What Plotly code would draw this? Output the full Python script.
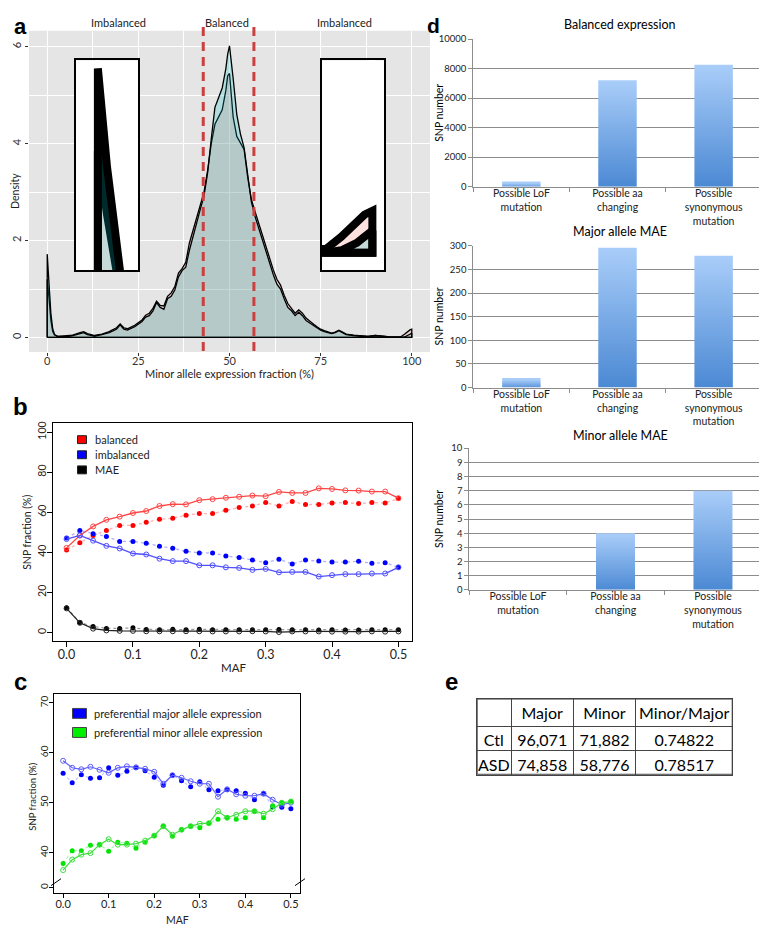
import plotly.graph_objects as go

# The page body adds an 8px offset; the figure is sized to fit the window exactly.
OFF = 8
W, H = 767 - OFF, 945 - OFF
def X(p): return (p - OFF) / W
def Y(p): return 1 - (p - OFF) / H

FONT = "Lato, 'Open Sans', sans-serif"
BOLD = "'Liberation Sans', Arial, sans-serif"

# ---------------- data: panel a (density of minor allele expression fraction) ----------------
dens_x = [0, 0.5, 1, 1.5, 2, 3, 5, 7, 9, 10,
          11, 13, 15, 17, 19, 20, 21, 22, 24, 25,
          26, 27, 28, 29, 30, 31, 32, 33, 34, 35,
          36, 37, 38, 39, 40, 41, 42, 43, 44, 45,
          46, 47, 48, 49, 49.5, 50, 50.5, 51, 52, 53,
          54, 55, 56, 57, 58, 59, 60, 61, 62, 63,
          64, 65, 66, 67, 68, 69, 70, 71, 72, 73,
          74, 75, 76, 77, 78, 79, 80, 81, 82, 84,
          86, 88, 90, 91, 92, 94, 96, 97, 98, 99,
          99.5, 100]
dens_teal = [1.72, 1.10, 0.50, 0.18, 0.06, 0.02, 0.02, 0.04, 0.09, 0.10,
             0.06, 0.03, 0.06, 0.10, 0.17, 0.26, 0.17, 0.15, 0.22, 0.28,
             0.33, 0.42, 0.45, 0.55, 0.72, 0.62, 0.58, 0.80, 0.85, 0.98,
             1.25, 1.38, 1.45, 1.80, 2.10, 2.35, 2.65, 2.92, 3.40, 4.10,
             4.75, 4.95, 5.15, 5.55, 5.85, 6.02, 5.60, 5.35, 4.60, 4.20,
             3.92, 3.30, 2.80, 2.50, 2.25, 2.05, 1.80, 1.55, 1.30, 1.10,
             1.00, 0.80, 0.62, 0.55, 0.45, 0.52, 0.45, 0.35, 0.30, 0.25,
             0.20, 0.15, 0.12, 0.10, 0.08, 0.10, 0.14, 0.10, 0.06, 0.04,
             0.03, 0.02, 0.04, 0.03, 0.02, 0.01, 0.01, 0.00, 0.01, 0.04,
             0.065, 0.09]
dens_pink = [1.20, 0.80, 0.35, 0.12, 0.05, 0.02, 0.03, 0.05, 0.10, 0.12,
             0.08, 0.04, 0.07, 0.12, 0.20, 0.28, 0.20, 0.18, 0.25, 0.31,
             0.36, 0.46, 0.50, 0.60, 0.75, 0.66, 0.65, 0.85, 0.92, 1.05,
             1.33, 1.42, 1.55, 1.95, 2.20, 2.45, 2.70, 3.00, 3.45, 4.00,
             4.40, 4.55, 4.70, 5.10, 5.40, 5.45, 5.00, 4.55, 4.15, 4.00,
             3.88, 3.30, 2.85, 2.60, 2.35, 2.15, 1.90, 1.65, 1.40, 1.20,
             1.08, 0.87, 0.70, 0.60, 0.50, 0.57, 0.50, 0.40, 0.33, 0.28,
             0.22, 0.17, 0.14, 0.11, 0.09, 0.11, 0.15, 0.11, 0.07, 0.05,
             0.03, 0.02, 0.04, 0.03, 0.02, 0.01, 0.01, 0.015, 0.065, 0.13,
             0.155, 0.17]
balanced_bounds = [42.8, 56.7]
region_labels = ["Imbalanced", "Balanced", "Imbalanced"]

# ---------------- data: panel b ----------------
maf = [0.00, 0.02, 0.04, 0.06, 0.08, 0.10, 0.12, 0.14, 0.16, 0.18, 0.20, 0.22, 0.24,
       0.26, 0.28, 0.30, 0.32, 0.34, 0.36, 0.38, 0.40, 0.42, 0.44, 0.46, 0.48, 0.50]
b_balanced_solid = [42.2, 48.4, 52.9, 56.2, 57.8, 59.6, 60.6, 63.1, 64.0, 63.9, 66.0, 66.5, 67.2,
                    67.7, 68.3, 68.0, 70.1, 69.6, 69.6, 71.9, 71.6, 70.9, 70.8, 70.3, 70.3, 67.0]
b_balanced_dot = [41.2, 44.8, 48.4, 50.9, 53.4, 53.4, 55.0, 56.5, 57.0, 58.5, 59.3, 59.3, 61.0,
                  62.3, 63.1, 64.8, 63.1, 65.4, 63.8, 63.9, 64.6, 64.8, 64.3, 64.8, 64.6, 66.8]
b_imbalanced_solid = [46.6, 48.4, 45.8, 43.2, 41.9, 39.4, 38.9, 36.8, 35.6, 35.6, 33.5, 33.5, 32.5,
                      32.2, 31.2, 31.7, 30.0, 30.2, 30.2, 27.9, 28.6, 29.1, 29.1, 29.4, 29.4, 32.5]
b_imbalanced_dot = [47.1, 50.9, 49.3, 47.9, 45.4, 45.4, 44.5, 43.0, 42.0, 40.5, 39.7, 39.7, 38.1,
                    37.4, 36.1, 34.8, 36.5, 34.2, 36.1, 35.6, 35.1, 35.1, 35.5, 34.5, 34.8, 32.5]
b_mae_solid = [12.0, 4.8, 1.9, 1.0, 0.8, 0.8, 0.6, 0.6, 0.6, 0.6, 0.6, 0.5, 0.5,
               0.5, 0.6, 0.5, 0.2, 0.5, 0.5, 0.5, 0.4, 0.4, 0.4, 0.5, 0.4, 0.5]
b_mae_dot = [12.3, 5.0, 3.0, 2.0, 2.0, 2.3, 1.5, 1.4, 1.6, 1.4, 1.6, 1.4, 1.4,
             1.4, 1.4, 1.3, 1.5, 1.4, 1.3, 1.2, 1.3, 1.2, 1.2, 1.3, 1.3, 1.4]
b_legend = ["balanced", "imbalanced", "MAE"]

# ---------------- data: panel c ----------------
c_major_solid = [58.4, 57.0, 56.7, 57.2, 56.6, 56.0, 57.0, 57.3, 57.1, 56.8, 56.2, 53.8, 55.5,
                 55.0, 54.3, 53.8, 53.8, 51.2, 52.7, 51.7, 51.4, 51.4, 51.8, 50.6, 49.6, 50.0]
c_major_dot = [55.9, 54.0, 55.6, 54.9, 55.0, 57.0, 55.5, 56.3, 57.0, 56.4, 55.1, 53.5, 55.5,
               54.4, 53.2, 54.2, 52.6, 52.4, 52.6, 52.4, 51.9, 50.6, 51.9, 49.2, 49.1, 48.8]
c_minor_solid = [36.5, 38.6, 39.6, 39.9, 41.6, 42.7, 41.6, 41.6, 41.8, 42.4, 43.4, 45.3, 43.6,
                 44.6, 45.3, 45.8, 45.9, 48.3, 47.0, 47.6, 48.3, 48.3, 47.8, 48.7, 50.0, 50.2]
c_minor_dot = [37.8, 40.4, 40.4, 41.5, 41.6, 40.3, 42.1, 41.9, 40.9, 42.1, 43.4, 45.3, 43.3,
               44.6, 45.3, 45.0, 45.9, 46.7, 47.0, 46.7, 47.0, 48.3, 47.0, 49.4, 50.0, 50.3]
c_legend = ["preferential major allele expression", "preferential minor allele expression"]

# ---------------- data: panel d ----------------
d_categories = ["Possible LoF<br>mutation", "Possible aa<br>changing", "Possible<br>synonymous<br>mutation"]
d_balanced = [350, 7200, 8250]
d_major_mae = [20, 296, 279]
d_minor_mae = [0, 4, 7]
d_titles = ["Balanced expression", "Major allele MAE", "Minor allele MAE"]

# ---------------- data: panel e ----------------
e_header = ["", "Major", "Minor", "Minor/Major"]
e_rows = ["Ctl", "ASD"]
e_major = ["96,071", "74,858"]
e_minor = ["71,882", "58,776"]
e_ratio = ["0.74822", "0.78517"]

fig = go.Figure()

# ---------- panel a traces ----------
PINK = "rgba(248,118,109,0.22)"
TEAL = "rgba(0,191,196,0.22)"
def closed(xs, ys):
    return [xs[0]] + list(xs) + [xs[-1], xs[0]], [0] + list(ys) + [0, 0]

for ax, lw in (("", 1.3), ("2", 8), ("3", 8)):
    for ys, fc in ((dens_pink, PINK), (dens_teal, TEAL)):
        xx, yy = closed(dens_x, ys)
        fig.add_trace(go.Scatter(x=xx, y=yy, mode="lines", fill="toself", fillcolor=fc,
                                 line=dict(color="black", width=lw),
                                 xaxis="x" + ax, yaxis="y" + ax, showlegend=False, hoverinfo="skip"))

# ---------- panel b traces ----------
b_series = [
    (b_balanced_solid, b_balanced_dot, "#FF4545", "rgba(255,80,80,0.45)", "#FF0000"),
    (b_imbalanced_solid, b_imbalanced_dot, "#4F4FFF", "rgba(80,80,255,0.45)", "#0000FF"),
    (b_mae_solid, b_mae_dot, "#222222", "rgba(60,60,60,0.5)", "#000000"),
]
for solid, dot, cl, cdl, cd in b_series:
    fig.add_trace(go.Scatter(x=maf, y=dot, mode="lines+markers", xaxis="x4", yaxis="y4",
                             line=dict(color=cdl, width=1.3, dash="dot"),
                             marker=dict(symbol="circle", size=5, color=cd), showlegend=False))
    fig.add_trace(go.Scatter(x=maf, y=solid, mode="lines+markers", xaxis="x4", yaxis="y4",
                             line=dict(color=cl, width=1.3),
                             marker=dict(symbol="circle-open", size=5, color=cl, line=dict(width=1)),
                             showlegend=False))

# ---------- panel c traces ----------
c_series = [
    (c_major_solid, c_major_dot, "#5C5CFF", "rgba(90,90,255,0.35)", "#0000FF"),
    (c_minor_solid, c_minor_dot, "#3CE03C", "rgba(60,230,60,0.45)", "#00E600"),
]
for solid, dot, cl, cdl, cd in c_series:
    fig.add_trace(go.Scatter(x=maf, y=dot, mode="lines+markers", xaxis="x5", yaxis="y5",
                             line=dict(color=cdl, width=1.1, dash="dot"),
                             marker=dict(symbol="circle", size=5, color=cd), showlegend=False))
    fig.add_trace(go.Scatter(x=maf, y=solid, mode="lines+markers", xaxis="x5", yaxis="y5",
                             line=dict(color=cl, width=1.2),
                             marker=dict(symbol="circle-open", size=5, color=cl, line=dict(width=1)),
                             showlegend=False))

# ---------- panel d traces (gradient-filled bars) ----------
BAR_W = 0.4
for vals, xa, ya in ((d_balanced, "x6", "y6"), (d_major_mae, "x7", "y7"), (d_minor_mae, "x8", "y8")):
    for i, v in enumerate(vals):
        if v <= 0:
            continue
        fig.add_trace(go.Scatter(
            x=[i - BAR_W / 2, i + BAR_W / 2, i + BAR_W / 2, i - BAR_W / 2, i - BAR_W / 2],
            y=[0, 0, v, v, 0], mode="lines", fill="toself",
            line=dict(width=0, color="rgba(0,0,0,0)"),
            fillgradient=dict(type="vertical", colorscale=[[0, "#4A88D3"], [1, "#A9CDF9"]],
                              start=0, stop=v),
            xaxis=xa, yaxis=ya, showlegend=False, hoverinfo="skip"))

# ---------- panel e table ----------
TBL_X0, TBL_X1, TBL_Y0 = 476.7, 732.7, 700.7
HDR_H, ROW_H = 27.6, 24.5
fig.add_trace(go.Table(
    domain=dict(x=[X(TBL_X0), X(TBL_X1)], y=[Y(782), Y(TBL_Y0)]),
    columnwidth=[34.3, 62.3, 62.4, 97],
    header=dict(values=e_header, height=HDR_H, align="center",
                line=dict(color="#444", width=1), fill=dict(color="white"),
                font=dict(family=FONT, size=16, color="black")),
    cells=dict(values=[e_rows, e_major, e_minor, e_ratio], height=ROW_H, align="center",
               line=dict(color="#444", width=1), fill=dict(color="white"),
               font=dict(family=FONT, size=16, color="black")),
))

# ---------- axes ----------
tickfont_a = dict(family=FONT, size=11, color="#333")
layout = dict(
    width=W, height=H, margin=dict(l=0, r=0, t=0, b=0),
    paper_bgcolor="white", plot_bgcolor="white", showlegend=False,
    font=dict(family=FONT, color="#222"),
    xaxis=dict(domain=[X(29), X(430)], anchor="y", range=[-5, 105], tickvals=[0, 25, 50, 75, 100],
               ticks="outside", ticklen=3, tickcolor="#333", tickfont=tickfont_a, ticklabelstandoff=-4,
               showgrid=True, gridcolor="white", gridwidth=1.1, zeroline=False,
               minor=dict(dtick=12.5, showgrid=True, gridcolor="white", gridwidth=0.5)),
    yaxis=dict(domain=[Y(350), Y(25)], anchor="x", range=[-0.3, 6.33], tickvals=[0, 2, 4, 6],
               tickangle=-90, ticks="outside", ticklen=3, tickcolor="#333", tickfont=tickfont_a,
               showgrid=True, gridcolor="white", gridwidth=1.1, zeroline=False,
               minor=dict(dtick=1, showgrid=True, gridcolor="white", gridwidth=0.5)),
    xaxis2=dict(domain=[X(76), X(138)], anchor="y2", range=[-1.2, 2.2], tickvals=[0],
                showticklabels=False, ticks="", showgrid=True, gridcolor="white", gridwidth=5,
                zeroline=False, showline=True, mirror=True, linecolor="black", linewidth=1.5),
    yaxis2=dict(domain=[Y(267), Y(55)], anchor="x2", range=[0.45, 1.77], showticklabels=False,
                ticks="", showgrid=False, zeroline=False, showline=True, mirror=True,
                linecolor="black", linewidth=1.5),
    xaxis3=dict(domain=[X(322), X(384)], anchor="y3", range=[96.75, 100.75], tickvals=[100],
                showticklabels=False, ticks="", showgrid=True, gridcolor="white", gridwidth=6,
                zeroline=False, showline=True, mirror=True, linecolor="black", linewidth=1.5),
    yaxis3=dict(domain=[Y(267), Y(55)], anchor="x3", range=[-0.07, 0.78], tickvals=[0],
                showticklabels=False, ticks="", showgrid=True, gridcolor="white", gridwidth=5,
                zeroline=False, showline=True, mirror=True, linecolor="black", linewidth=1.5),
    xaxis4=dict(domain=[X(53.3), X(411.7)], anchor="y4", range=[-0.02, 0.52],
                tickvals=[0, 0.1, 0.2, 0.3, 0.4, 0.5], ticktext=["0.0", "0.1", "0.2", "0.3", "0.4", "0.5"],
                ticks="outside", ticklen=5, tickcolor="black", showline=True, mirror=True,
                linecolor="black", linewidth=1, showgrid=False, zeroline=False, ticklabelstandoff=-3,
                tickfont=dict(family=FONT, size=12.5, color="#222")),
    yaxis4=dict(domain=[Y(642.3), Y(422.3)], anchor="x4", range=[-4.2, 104.3],
                tickvals=[0, 20, 40, 60, 80, 100], tickangle=-90, ticks="outside", ticklen=5,
                tickcolor="black", showline=True, mirror=True, linecolor="black", linewidth=1,
                showgrid=False, zeroline=False, ticklabelstandoff=-3,
                tickfont=dict(family=FONT, size=10.5, color="#222")),
    xaxis5=dict(domain=[X(54), X(300)], anchor="y5", range=[-0.02, 0.52],
                tickvals=[0, 0.1, 0.2, 0.3, 0.4, 0.5], ticktext=["0.0", "0.1", "0.2", "0.3", "0.4", "0.5"],
                ticks="outside", ticklen=4, tickcolor="black", showline=True, mirror=True,
                linecolor="black", linewidth=1, showgrid=False, zeroline=False, ticklabelstandoff=-3,
                tickfont=dict(family=FONT, size=11, color="#222")),
    yaxis5=dict(domain=[Y(897), Y(696)], anchor="x5", range=[32.0, 71.8],
                tickvals=[33.0, 40, 50, 60, 70], ticktext=["0", "40", "50", "60", "70"],
                tickangle=-90, ticks="outside", ticklen=4, tickcolor="black", showline=True,
                mirror=True, linecolor="black", linewidth=1, showgrid=False, zeroline=False,
                ticklabelstandoff=-3, tickfont=dict(family=FONT, size=10, color="#222")),
)

GRID = "#8C8C8C"
for n, (x0, y0, y1, top, dt) in zip((6, 7, 8), ((473.3, 182.7, 33.3, 10000, 2000),
                                                (473.3, 386, 242.7, 300, 50),
                                                (469.3, 590.7, 447.3, 10, 1))):
    layout[f"xaxis{n}"] = dict(domain=[X(x0), X(761.7)], anchor=f"y{n}", range=[-0.5, 2.5],
                              tickvals=[0, 1, 2], ticktext=d_categories, ticks="",
                              showline=True, linecolor=GRID, linewidth=1, showgrid=False,
                              zeroline=False, ticklabelstandoff=-3,
                              tickfont=dict(family=FONT, size=10.5, color="#222"),
                              minor=dict(tickvals=[-0.5, 0.5, 1.5, 2.5], ticks="outside",
                                         ticklen=4, tickcolor=GRID))
    layout[f"yaxis{n}"] = dict(domain=[Y(y0), Y(y1)], anchor=f"x{n}", range=[0, top], dtick=dt,
                              tick0=0, tickformat="d", showgrid=True, gridcolor=GRID, gridwidth=1,
                              showline=True, linecolor=GRID, linewidth=1, ticks="outside", ticklen=4,
                              tickcolor=GRID, zeroline=False,
                              tickfont=dict(family=FONT, size=9.5, color="#222"))

fig.update_layout(**layout)

# ---------- shapes ----------
shapes = []
for xr, yr in (("x domain", "y domain"), ("x2 domain", "y2 domain"), ("x3 domain", "y3 domain")):
    shapes.append(dict(type="rect", xref=xr, yref=yr, x0=0, x1=1, y0=0, y1=1,
                       fillcolor="#E5E5E5", line=dict(width=0), layer="below"))
for b in balanced_bounds:
    shapes.append(dict(type="line", xref="x", yref="paper", x0=b, x1=b, y0=Y(349), y1=Y(20),
                       line=dict(color="#C9403F", width=3, dash="9px,6px"), layer="above"))
# legend squares panel b
for (cy, col) in zip((438.7, 454, 469.3), ("#FF0000", "#0000FF", "#000000")):
    shapes.append(dict(type="rect", xref="paper", yref="paper", x0=X(77.5), x1=X(86.5),
                       y0=Y(cy + 4), y1=Y(cy - 4), fillcolor=col, line=dict(color="#222", width=1)))
# legend squares panel c
for (cy, col) in zip((715.7, 735), ("#0000FF", "#00F000")):
    shapes.append(dict(type="rect", xref="paper", yref="paper", x0=X(72.5), x1=X(86.5),
                       y0=Y(cy + 5), y1=Y(cy - 5), fillcolor=col, line=dict(color="#444", width=1)))
# axis-break marks panel c
for xc in (56, 300):
    shapes.append(dict(type="line", xref="paper", yref="paper", x0=X(xc - 5), x1=X(xc + 5),
                       y0=Y(890), y1=Y(883), line=dict(color="black", width=1)))
# outer border of the table (the table clips its own outer edge lines)
shapes.append(dict(type="rect", xref="paper", yref="paper", x0=X(TBL_X0 + 0.5), x1=X(TBL_X1 - 0.5),
                   y0=Y(TBL_Y0 + HDR_H + 2 * ROW_H), y1=Y(TBL_Y0 + 0.5),
                   line=dict(color="#444", width=1), fillcolor="rgba(0,0,0,0)"))
fig.update_layout(shapes=shapes)

# ---------- annotations ----------
ann = []
def text(x, y, s, size=11, angle=0, xanchor="center", family=FONT, color="#222", bold=False):
    ann.append(dict(x=X(x), y=Y(y), xref="paper", yref="paper", text=("<b>%s</b>" % s) if bold else s,
                    showarrow=False, xanchor=xanchor, yanchor="middle", textangle=angle,
                    font=dict(family=family, size=size, color=color)))

text(20, 21, "a", size=22, family=BOLD, color="black", bold=True)
text(20, 405, "b", size=24, family=BOLD, color="black", bold=True)
text(20, 683, "c", size=24, family=BOLD, color="black", bold=True)
text(433, 20, "d", size=21, family=BOLD, color="black", bold=True)
text(452, 683, "e", size=24, family=BOLD, color="black", bold=True)

for s, cx in zip(region_labels, (119, 227, 344)):
    text(cx, 17, s, size=11)
text(15, 187, "Density", size=10.5, angle=-90)
text(230, 372, "Minor allele expression fraction (%)", size=11)

text(27, 533, "SNP fraction (%)", size=10.5, angle=-90)
text(233, 669, "MAF", size=11.5)
for s, cy in zip(b_legend, (438.7, 454, 469.3)):
    text(93, cy, s, size=11, xanchor="left")

text(33, 800, "SNP fraction (%)", size=9.5, angle=-90)
text(177, 925, "MAF", size=10.5)
for s, cy in zip(c_legend, (715.7, 735)):
    text(91.5, cy, s, size=11, xanchor="left")

for s, cy in zip(d_titles, (19, 228.3, 435)):
    text(620, cy, s, size=12.5, color="black")
for cy in (108, 314, 519):
    text(439, cy, "SNP number", size=10.5, angle=-90, color="black")

fig.update_layout(annotations=ann)

fig.write_html("out.html")
